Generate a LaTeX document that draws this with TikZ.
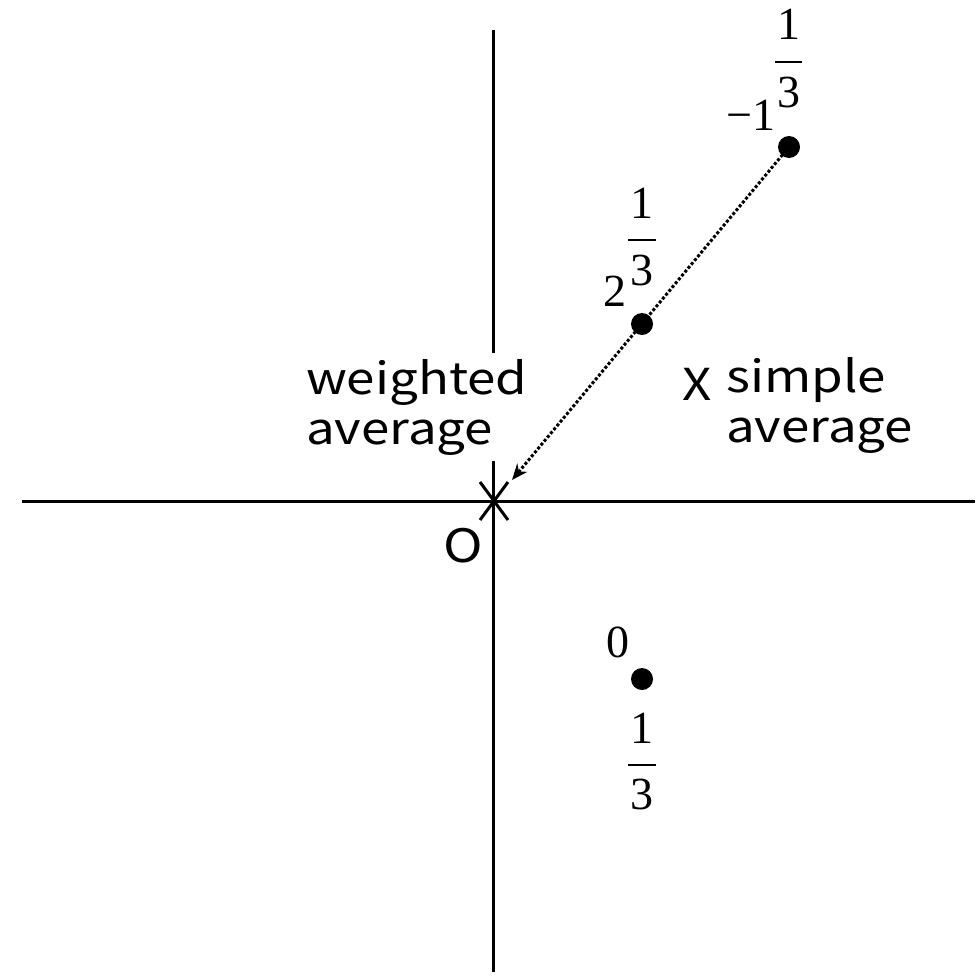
\documentclass[tikz,border=0pt]{standalone}
\usepackage{fontspec}
\setmainfont[FakeStretch=1.16]{Noto Sans CJK JP}
\newfontfamily\numfont{Liberation Serif}
\usetikzlibrary{arrows.meta}
\begin{document}
\begin{tikzpicture}[x=1pt,y=-1pt,
  axis/.style={line width=3pt},
  pt/.style={circle,fill=black,inner sep=0pt,minimum size=22pt},
  lbl/.style={font=\fontsize{44}{50}\selectfont,inner sep=0pt,align=left},
  mth/.style={font=\numfont\fontsize{46}{48}\selectfont,inner sep=0pt},
  bar/.style={line width=2.5pt}]
\useasboundingbox (0,0) rectangle (975,977);
% axes
\coordinate (xl) at (22,501);
\coordinate (xr) at (975,501);
\coordinate (yt) at (493,30);
\coordinate (yb) at (493,972);
\draw[axis] (xl) -- (xr);
\draw[axis] (yt) -- (yb);
% weighted average label (covers axis)
\node[lbl,fill=white,anchor=west,inner xsep=0pt,inner ysep=6pt] (wa) at (306,407) {weighted\\average};
% points
\node[pt] (p1) at (789,147) {};
\node[pt] (p2) at (642,324) {};
\node[pt] (p3) at (642,679) {};
% origin star
\coordinate (o) at (493,501);
\draw[line width=3pt] (480,482) -- (508,520);
\draw[line width=3pt] (508,482) -- (480,520);
\node[lbl,font=\fontsize{46}{50}\selectfont] (O) at (463,546) {O};
% arrow
\coordinate (tip) at (512,480);
\draw[line width=3pt,dotted,-{Stealth[length=16pt,width=13pt]}] (p1.center) -- (tip);
% simple average
\node[lbl] (X) at (697,384) {X};
\node[lbl,anchor=west] (sa) at (726,405) {simple\\average};
% math labels: -1^(1/3)
\node[mth] (m1) at (751,115) {−1};
\node[mth] (n1) at (789,24) {1};
\node[mth] (d1) at (789,92) {3};
\coordinate (b1l) at (775,62); \coordinate (b1r) at (802,62);
\draw[bar] (b1l) -- (b1r);
% 2^(1/3)
\node[mth] (m2) at (615,291) {2};
\node[mth] (n2) at (642,203) {1};
\node[mth] (d2) at (642,270) {3};
\coordinate (b2l) at (628,240); \coordinate (b2r) at (656,240);
\draw[bar] (b2l) -- (b2r);
% 0 and 1/3
\node[mth] (m3) at (618,642) {0};
\node[mth] (n3) at (642,728) {1};
\node[mth] (d3) at (642,794) {3};
\coordinate (b3l) at (628,765); \coordinate (b3r) at (656,765);
\draw[bar] (b3l) -- (b3r);
\end{tikzpicture}
\end{document}
